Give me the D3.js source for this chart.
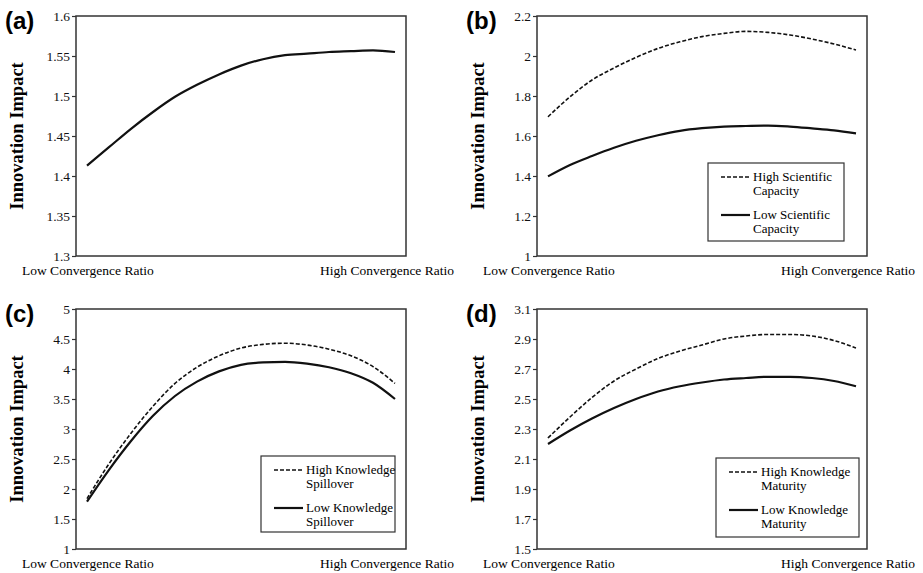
<!DOCTYPE html>
<html lang="en">
<head>
  <meta charset="utf-8">
  <title>Innovation Impact vs Convergence Ratio</title>
  <script src="https://d3js.org/d3.v7.min.js"></script>
  <style>
    body { margin: 0; background: #fff; }
    .tick text { font-family: "Liberation Serif", "Times New Roman", serif; font-size: 13.5px; fill: #111; }
    .tick line { stroke: #333; stroke-width: 1.2; }
  </style>
</head>
<body>
<div id="chart"></div>
<script>
  // ---- data ----
  var panelLabels = ["(a)", "(b)", "(c)", "(d)"];
  var xLabels = ["Low Convergence Ratio", "High Convergence Ratio"];
  var yTitle = "Innovation Impact";

  var ticksA = [1.3, 1.35, 1.4, 1.45, 1.5, 1.55, 1.6];
  var ticksB = [1, 1.2, 1.4, 1.6, 1.8, 2, 2.2];
  var ticksC = [1, 1.5, 2, 2.5, 3, 3.5, 4, 4.5, 5];
  var ticksD = [1.5, 1.7, 1.9, 2.1, 2.3, 2.5, 2.7, 2.9, 3.1];

  var seriesA = [1.413, 1.436, 1.459, 1.480, 1.499, 1.514, 1.527, 1.538, 1.546, 1.551, 1.553, 1.555, 1.556, 1.557, 1.555];

  var highB = [1.696, 1.796, 1.880, 1.940, 1.993, 2.038, 2.071, 2.097, 2.113, 2.123, 2.118, 2.105, 2.085, 2.060, 2.030];
  var lowB  = [1.398, 1.455, 1.500, 1.541, 1.576, 1.604, 1.626, 1.639, 1.647, 1.650, 1.652, 1.647, 1.638, 1.628, 1.613];

  var highC = [1.84, 2.42, 2.93, 3.38, 3.76, 4.03, 4.22, 4.35, 4.41, 4.43, 4.40, 4.33, 4.22, 4.04, 3.76];
  var lowC  = [1.79, 2.32, 2.80, 3.22, 3.55, 3.79, 3.96, 4.07, 4.11, 4.12, 4.09, 4.03, 3.93, 3.77, 3.50];

  var highD = [2.24, 2.38, 2.51, 2.62, 2.70, 2.77, 2.82, 2.86, 2.90, 2.92, 2.93, 2.93, 2.92, 2.89, 2.84];
  var lowD  = [2.20, 2.29, 2.37, 2.44, 2.50, 2.55, 2.585, 2.61, 2.63, 2.64, 2.648, 2.648, 2.64, 2.62, 2.585];

  var legendB = [["High Scientific", "Capacity"], ["Low Scientific", "Capacity"]];
  var legendC = [["High Knowledge", "Spillover"], ["Low Knowledge", "Spillover"]];
  var legendD = [["High Knowledge", "Maturity"], ["Low Knowledge", "Maturity"]];

  // ---- layout ----
  var W = 923, H = 573;
  var pw = 330, ph = 240;

  var panels = [
    {label: panelLabels[0], left: 76,  top: 16,  ticks: ticksA, series: [seriesA], legend: null},
    {label: panelLabels[1], left: 537, top: 16,  ticks: ticksB, series: [highB, lowB], legend: legendB, lx: 171, ly: 147, lw: 136, lh: 78},
    {label: panelLabels[2], left: 76,  top: 309, ticks: ticksC, series: [highC, lowC], legend: legendC, lx: 185, ly: 147, lw: 134, lh: 76},
    {label: panelLabels[3], left: 537, top: 309, ticks: ticksD, series: [highD, lowD], legend: legendD, lx: 179, ly: 149, lw: 143, lh: 79}
  ];

  var svg = d3.select("#chart").append("svg")
    .attr("width", W)
    .attr("height", H);

  panels.forEach(function(p) {
    var g = svg.append("g")
      .attr("transform", "translate(" + p.left + "," + p.top + ")");

    var idx = d3.range(p.series[0].length);
    var x = d3.scalePoint()
      .domain(idx)
      .range([0, pw])
      .padding(0.5);

    var y = d3.scaleLinear()
      .domain(d3.extent(p.ticks))
      .range([ph, 0]);

    // y axis
    var ax = g.append("g")
      .call(d3.axisLeft(y)
        .tickValues(p.ticks)
        .tickSize(4)
        .tickPadding(2)
        .tickFormat(function(d) { return String(+d.toFixed(2)); }));
    ax.select(".domain").remove();

    // plot border
    g.append("rect")
      .attr("width", pw)
      .attr("height", ph)
      .attr("fill", "none")
      .attr("stroke", "#333")
      .attr("stroke-width", 1.5);

    var line = d3.line()
      .x(function(d, i) { return x(i); })
      .y(function(d) { return y(d); })
      .curve(d3.curveMonotoneX);

    p.series.forEach(function(s, k) {
      var dashed = p.series.length > 1 && k === 0;
      g.append("path")
        .datum(s)
        .attr("fill", "none")
        .attr("stroke", "#111")
        .attr("stroke-width", dashed ? 1.6 : 2.2)
        .attr("stroke-dasharray", dashed ? "4,2" : null)
        .attr("d", line);
    });

    // panel label
    svg.append("text")
      .attr("x", p.left - 71)
      .attr("y", p.top + 13)
      .style("font-family", "'Liberation Sans', Arial, sans-serif")
      .style("font-weight", "bold")
      .style("font-size", "24px")
      .text(p.label);

    // y title
    g.append("text")
      .attr("transform", "translate(-53," + (ph / 2) + ") rotate(-90)")
      .attr("text-anchor", "middle")
      .style("font-family", "'Liberation Serif', 'Times New Roman', serif")
      .style("font-weight", "bold")
      .style("font-size", "18.5px")
      .text(yTitle);

    // x labels
    g.append("text")
      .attr("x", -54)
      .attr("y", ph + 19)
      .style("font-family", "'Liberation Serif', 'Times New Roman', serif")
      .style("font-size", "13.5px")
      .text(xLabels[0]);
    g.append("text")
      .attr("x", pw + 48)
      .attr("y", ph + 19)
      .attr("text-anchor", "end")
      .style("font-family", "'Liberation Serif', 'Times New Roman', serif")
      .style("font-size", "13.5px")
      .text(xLabels[1]);

    // legend
    if (p.legend) {
      var lg = g.append("g")
        .attr("transform", "translate(" + p.lx + "," + p.ly + ")");
      lg.append("rect")
        .attr("width", p.lw)
        .attr("height", p.lh)
        .attr("fill", "#fff")
        .attr("stroke", "#333")
        .attr("stroke-width", 1.2);
      p.legend.forEach(function(lines, k) {
        var cy = 14 + k * 38;
        lg.append("line")
          .attr("x1", 13).attr("x2", 42)
          .attr("y1", cy).attr("y2", cy)
          .attr("stroke", "#111")
          .attr("stroke-width", k === 0 ? 1.6 : 2.2)
          .attr("stroke-dasharray", k === 0 ? "4,2" : null);
        lines.forEach(function(t, j) {
          lg.append("text")
            .attr("x", 45)
            .attr("y", cy + 4 + j * 13.5)
            .style("font-family", "'Liberation Serif', 'Times New Roman', serif")
            .style("font-size", "13px")
            .text(t);
        });
      });
    }
  });
</script>
</body>
</html>
